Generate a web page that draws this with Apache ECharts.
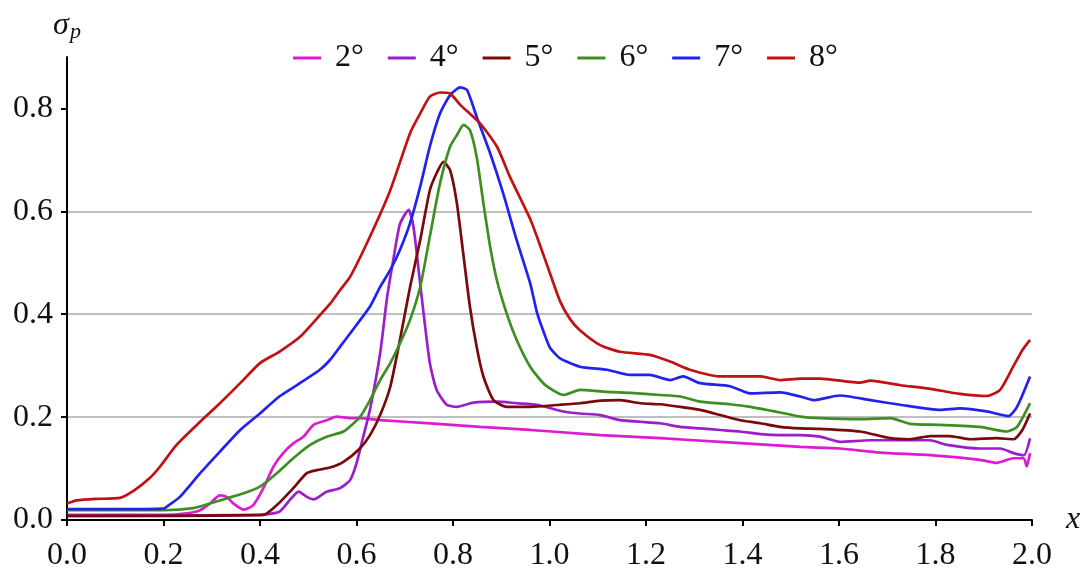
<!DOCTYPE html>
<html>
<head>
<meta charset="utf-8">
<script src="https://cdn.jsdelivr.net/npm/echarts@6/dist/echarts.min.js"></script>
<style>html,body{margin:0;padding:0;background:#fff}#c{width:1087px;height:573px}</style>
</head>
<body>
<div id="c"></div>
<script>
// ---- data ----
const seriesNames = ['2°', '4°', '5°', '6°', '7°', '8°'];
const seriesColors = ['#e01ad2', '#9b1fc9', '#7a0a0a', '#3d8f22', '#2222ee', '#c01212'];

const xTickValues = [0, 0.2, 0.4, 0.6, 0.8, 1.0, 1.2, 1.4, 1.6, 1.8, 2.0];
const yTickValues = [0, 0.2, 0.4, 0.6, 0.8];

const x2 = [0, 0.2, 0.248, 0.276, 0.296, 0.317, 0.331, 0.345, 0.366, 0.386, 0.407, 0.428, 0.448, 0.469, 0.49, 0.511, 0.538, 0.559, 0.587, 0.607, 0.649, 0.752, 0.856, 0.96, 1.063, 1.105, 1.167, 1.229, 1.354, 1.52, 1.602, 1.685, 1.789, 1.892, 1.927, 1.962, 1.983, 1.989, 1.996];
const y2 = [0.01, 0.01, 0.013, 0.019, 0.032, 0.048, 0.045, 0.032, 0.02, 0.029, 0.062, 0.104, 0.13, 0.149, 0.162, 0.185, 0.194, 0.201, 0.198, 0.198, 0.194, 0.188, 0.181, 0.175, 0.168, 0.165, 0.162, 0.159, 0.152, 0.142, 0.139, 0.131, 0.126, 0.117, 0.111, 0.12, 0.12, 0.104, 0.13];

const x4 = [0, 0.4, 0.44, 0.462, 0.48, 0.497, 0.511, 0.538, 0.566, 0.587, 0.6, 0.614, 0.628, 0.649, 0.663, 0.677, 0.69, 0.708, 0.718, 0.728, 0.739, 0.752, 0.766, 0.787, 0.808, 0.842, 0.891, 0.932, 0.974, 1.029, 1.063, 1.105, 1.146, 1.188, 1.229, 1.271, 1.312, 1.354, 1.395, 1.437, 1.478, 1.52, 1.561, 1.602, 1.665, 1.727, 1.789, 1.824, 1.892, 1.934, 1.962, 1.983, 1.996];
const y4 = [0.008, 0.01, 0.016, 0.039, 0.055, 0.045, 0.04, 0.055, 0.062, 0.078, 0.11, 0.162, 0.215, 0.324, 0.43, 0.51, 0.575, 0.603, 0.57, 0.492, 0.402, 0.305, 0.253, 0.224, 0.22, 0.228, 0.23, 0.227, 0.224, 0.211, 0.207, 0.204, 0.194, 0.191, 0.188, 0.181, 0.178, 0.175, 0.172, 0.167, 0.165, 0.165, 0.162, 0.152, 0.155, 0.155, 0.155, 0.146, 0.139, 0.139, 0.13, 0.126, 0.159];

const x5 = [0, 0.407, 0.435, 0.469, 0.497, 0.518, 0.545, 0.573, 0.607, 0.628, 0.649, 0.67, 0.69, 0.711, 0.732, 0.752, 0.766, 0.78, 0.794, 0.808, 0.822, 0.835, 0.849, 0.863, 0.884, 0.911, 0.96, 1.022, 1.063, 1.105, 1.146, 1.188, 1.229, 1.271, 1.312, 1.354, 1.395, 1.437, 1.478, 1.52, 1.561, 1.644, 1.706, 1.747, 1.789, 1.83, 1.872, 1.927, 1.962, 1.98, 1.996];
const y5 = [0.008, 0.01, 0.029, 0.062, 0.091, 0.097, 0.102, 0.113, 0.139, 0.165, 0.204, 0.259, 0.35, 0.453, 0.544, 0.641, 0.674, 0.696, 0.68, 0.616, 0.512, 0.415, 0.337, 0.279, 0.233, 0.22, 0.22, 0.224, 0.227, 0.232, 0.233, 0.227, 0.225, 0.22, 0.214, 0.204, 0.194, 0.188, 0.181, 0.178, 0.177, 0.172, 0.159, 0.157, 0.163, 0.163, 0.157, 0.159, 0.157, 0.175, 0.207];

const x6 = [0, 0.2, 0.262, 0.296, 0.331, 0.366, 0.4, 0.435, 0.469, 0.504, 0.538, 0.573, 0.607, 0.628, 0.649, 0.67, 0.69, 0.711, 0.732, 0.752, 0.773, 0.794, 0.808, 0.822, 0.835, 0.849, 0.863, 0.877, 0.891, 0.911, 0.932, 0.96, 0.987, 1.015, 1.029, 1.063, 1.119, 1.167, 1.229, 1.271, 1.312, 1.374, 1.416, 1.478, 1.52, 1.561, 1.644, 1.706, 1.747, 1.81, 1.892, 1.948, 1.969, 1.996];
const y6 = [0.019, 0.019, 0.023, 0.032, 0.042, 0.052, 0.065, 0.091, 0.12, 0.146, 0.162, 0.172, 0.2, 0.233, 0.272, 0.305, 0.343, 0.389, 0.453, 0.551, 0.654, 0.726, 0.748, 0.768, 0.758, 0.706, 0.616, 0.531, 0.466, 0.402, 0.35, 0.298, 0.266, 0.248, 0.243, 0.253, 0.249, 0.247, 0.243, 0.24, 0.23, 0.225, 0.22, 0.209, 0.201, 0.198, 0.196, 0.198, 0.187, 0.185, 0.181, 0.172, 0.181, 0.227];

const x7 = [0, 0.1, 0.2, 0.207, 0.234, 0.276, 0.317, 0.359, 0.4, 0.44, 0.483, 0.524, 0.545, 0.566, 0.587, 0.628, 0.649, 0.67, 0.69, 0.711, 0.732, 0.752, 0.773, 0.794, 0.815, 0.829, 0.849, 0.877, 0.904, 0.932, 0.96, 0.975, 0.99, 1.001, 1.022, 1.063, 1.119, 1.167, 1.208, 1.25, 1.277, 1.312, 1.374, 1.416, 1.478, 1.52, 1.547, 1.602, 1.665, 1.727, 1.81, 1.851, 1.906, 1.951, 1.969, 1.996];
const y7 = [0.021, 0.021, 0.022, 0.026, 0.045, 0.091, 0.133, 0.175, 0.207, 0.24, 0.266, 0.292, 0.311, 0.337, 0.363, 0.415, 0.453, 0.486, 0.525, 0.577, 0.648, 0.726, 0.79, 0.826, 0.841, 0.836, 0.784, 0.713, 0.635, 0.544, 0.46, 0.4, 0.36, 0.335, 0.314, 0.298, 0.292, 0.282, 0.282, 0.272, 0.279, 0.266, 0.26, 0.246, 0.248, 0.24, 0.233, 0.242, 0.233, 0.224, 0.214, 0.217, 0.211, 0.202, 0.22, 0.279];

const x8 = [0, 0.02, 0.06, 0.11, 0.14, 0.172, 0.193, 0.227, 0.276, 0.317, 0.359, 0.4, 0.44, 0.483, 0.524, 0.545, 0.566, 0.587, 0.628, 0.67, 0.711, 0.732, 0.752, 0.773, 0.794, 0.815, 0.856, 0.891, 0.918, 0.96, 0.98, 1.0, 1.022, 1.043, 1.063, 1.105, 1.146, 1.208, 1.25, 1.291, 1.354, 1.437, 1.478, 1.52, 1.561, 1.644, 1.665, 1.727, 1.782, 1.851, 1.906, 1.934, 1.961, 1.98, 1.996];
const y8 = [0.032, 0.038, 0.041, 0.043, 0.058, 0.082, 0.104, 0.146, 0.191, 0.227, 0.266, 0.305, 0.327, 0.356, 0.398, 0.42, 0.447, 0.473, 0.551, 0.641, 0.752, 0.79, 0.823, 0.831, 0.829, 0.807, 0.771, 0.726, 0.667, 0.585, 0.535, 0.482, 0.425, 0.39, 0.369, 0.34, 0.327, 0.321, 0.308, 0.292, 0.279, 0.279, 0.272, 0.275, 0.275, 0.267, 0.271, 0.262, 0.256, 0.245, 0.241, 0.253, 0.298, 0.33, 0.35];

const allX = [x2, x4, x5, x6, x7, x8];
const allY = [y2, y4, y5, y6, y7, y8];

// ---- chart ----
const FONT = "'Liberation Serif', 'Times New Roman', serif";
const chart = echarts.init(document.getElementById('c'), null, {renderer: 'canvas'});
const series = seriesNames.map((name, i) => ({
  name: name,
  type: 'line',
  data: allX[i].map((x, k) => [x, allY[i][k]]),
  showSymbol: false,
  smooth: 0.2,
  lineStyle: {width: 2.7, color: seriesColors[i]},
  itemStyle: {color: seriesColors[i]},
  emphasis: {disabled: true},
  animation: false
}));

chart.setOption({
  animation: false,
  backgroundColor: '#fff',
  grid: {left: 67, right: 55, top: 57, bottom: 53, containLabel: false},
  legend: {
    left: 288, top: 37,
    icon: 'rect', itemWidth: 28, itemHeight: 3, itemGap: 24,
    textStyle: {fontFamily: FONT, fontSize: 32, color: '#111', padding: [0, 0, 0, 9]},
    data: seriesNames
  },
  xAxis: {
    type: 'value', min: 0, max: 2, interval: 0.2,
    name: 'x', nameLocation: 'end', nameGap: 34,
    nameTextStyle: {fontFamily: FONT, fontStyle: 'italic', fontSize: 32, color: '#111', verticalAlign: 'middle', padding: [0, 0, 8, 0]},
    axisLine: {lineStyle: {color: '#000', width: 2}},
    axisTick: {inside: false, length: 6, lineStyle: {color: '#000', width: 2}},
    axisLabel: {fontFamily: FONT, fontSize: 32, color: '#111', margin: 20,
      customValues: xTickValues, formatter: v => v.toFixed(1)},
    splitLine: {show: false}
  },
  yAxis: {
    type: 'value', min: 0, max: 0.9, interval: 0.2,
    name: '{s|σ}{p|p}', nameLocation: 'end', nameGap: 14,
    nameTextStyle: {align: 'center', rich: {
      s: {fontFamily: FONT, fontStyle: 'italic', fontSize: 32, color: '#111'},
      p: {fontFamily: FONT, fontStyle: 'italic', fontSize: 22, color: '#111', padding: [12, 0, 0, 1]}
    }},
    axisLine: {show: true, lineStyle: {color: '#000', width: 2}},
    axisTick: {show: true, inside: false, length: 6, lineStyle: {color: '#000', width: 2}, customValues: yTickValues},
    axisLabel: {fontFamily: FONT, fontSize: 32, color: '#111', margin: 14,
      customValues: yTickValues, formatter: v => v.toFixed(1)},
    splitLine: {show: true, showMinLine: false, showMaxLine: false, lineStyle: {color: '#aaaaaa', width: 1.5}}
  },
  series: series
});
</script>
</body>
</html>
